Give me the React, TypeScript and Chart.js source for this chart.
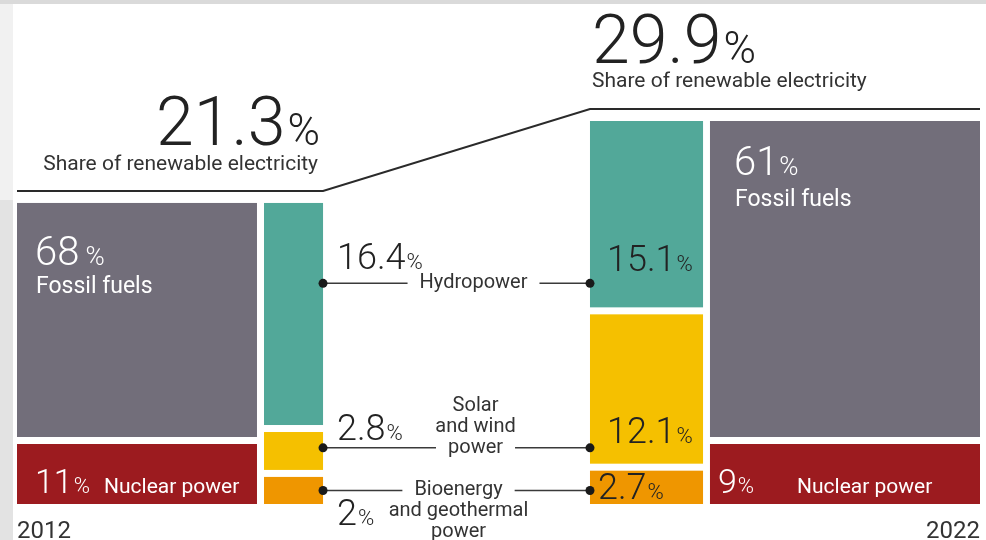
import { useEffect, useRef } from "react";
import { Chart, registerables } from "chart.js";

Chart.register(...registerables);

// ---- data (shares of electricity generation, %) ----
const YEARS = ["2012", "2022"];
const RENEWABLE_SHARE = [21.3, 29.9];
const HYDRO = [16.4, 15.1];
const SOLAR_WIND = [2.8, 12.1];
const BIO_GEO = [2, 2.7];
const FOSSIL = [68, 61];
const NUCLEAR = [11, 9];
const SOURCE_LABELS = [
  ["Hydropower"],
  ["Solar", "and wind", "power"],
  ["Bioenergy", "and geothermal", "power"],
];

// ---- layout (x scale 0..100 across the chart area, y scale 0..100 = full panel height) ----
const COL_OTHER_X = [[0, 24.92], [71.96, 100]];
const COL_RENEW_X = [[25.65, 31.78], [59.5, 71.24]];
const PANEL_TOP = [78.6, 100];
const GAP = 7;
const MIN_LABEL_PX = 60; // nuclear rows keep room for their label
const CONN_LINE = [0, 2, 0]; // which label line the connector runs through
const LABEL_DX = [17, 19, 2];
const LEFT_NUM_DY = [-14, -8, 35];
const RIGHT_NUM_DY = [-12, -5, 9];
const RIGHT_NUM_DX = [17, 17, 8];
const FOSSIL_DX = [18, 24];
const FOSSIL_NUM_DY = [62, 54];
const FOSSIL_TXT_DY = [90, 85];
const NUCLEAR_DX = [18, 8];

const FONT = "Roboto, 'Liberation Sans', sans-serif";
const COLORS = {
  fossil: "#726e7a",
  nuclear: "#9c1b1f",
  hydro: "#52a899",
  solar: "#f5c000",
  bio: "#ef9600",
  ink: "#222222",
  soft: "#333333",
};
const RENEW_COLORS = [COLORS.hydro, COLORS.solar, COLORS.bio];

type Seg = { y0: number; y1: number };

function stack(values: number[], top: number, bottom: number, minPx: number[]): Seg[] {
  const avail = bottom - top - GAP * (values.length - 1);
  const sum = values.reduce((a, b) => a + b, 0);
  let h = values.map((v) => (v / sum) * avail);
  const fixed = h.map((v, i) => v < minPx[i]);
  if (fixed.some(Boolean)) {
    const fixedTotal = minPx.reduce((a, m, i) => a + (fixed[i] ? m : 0), 0);
    const freeSum = values.reduce((a, v, i) => a + (fixed[i] ? 0 : v), 0);
    h = values.map((v, i) => (fixed[i] ? minPx[i] : (v / freeSum) * (avail - fixedTotal)));
  }
  let y = top;
  return h.map((hh) => {
    const s = { y0: y, y1: y + hh };
    y += hh + GAP;
    return s;
  });
}

function drawPct(
  ctx: CanvasRenderingContext2D,
  num: string,
  x: number,
  y: number,
  big: number,
  small: number,
  color: string,
  align: "left" | "right",
  gap = 1,
) {
  ctx.font = `300 ${big}px ${FONT}`;
  const w1 = ctx.measureText(num).width;
  ctx.font = `300 ${small}px ${FONT}`;
  const w2 = ctx.measureText("%").width;
  const start = align === "left" ? x : x - w1 - gap - w2;
  ctx.fillStyle = color;
  ctx.textAlign = "left";
  ctx.textBaseline = "alphabetic";
  ctx.font = `300 ${big}px ${FONT}`;
  ctx.fillText(num, start, y);
  ctx.font = `300 ${small}px ${FONT}`;
  ctx.fillText("%", start + w1 + gap, y);
}

const mekkoPlugin = {
  id: "mekko",
  beforeDraw(chart: Chart) {
    const { ctx, width, height } = chart;
    ctx.save();
    ctx.fillStyle = "#ffffff";
    ctx.fillRect(0, 0, width, height);
    ctx.fillStyle = "#dadada";
    ctx.fillRect(0, 0, width, 4);
    ctx.fillStyle = "#f1f1f1";
    ctx.fillRect(0, 4, 13, 196);
    ctx.fillStyle = "#e3e3e3";
    ctx.fillRect(0, 200, 13, height - 200);
    ctx.restore();
  },
  afterDraw(chart: Chart) {
    const { ctx } = chart;
    const xs = chart.scales.x;
    const ys = chart.scales.y;
    const px = (u: number) => xs.getPixelForValue(u);
    const py = (u: number) => ys.getPixelForValue(u);
    const bottom = py(0);

    const panels = YEARS.map((_, i) => {
      const top = py(PANEL_TOP[i]);
      const ox = COL_OTHER_X[i].map(px);
      const rx = COL_RENEW_X[i].map(px);
      const other = stack([FOSSIL[i], NUCLEAR[i]], top, bottom, [0, MIN_LABEL_PX]);
      const renew = stack([HYDRO[i], SOLAR_WIND[i], BIO_GEO[i]], top, bottom, [0, 0, 0]);
      return { top, ox, rx, other, renew };
    });

    ctx.save();
    // blocks
    panels.forEach((p) => {
      [COLORS.fossil, COLORS.nuclear].forEach((c, k) => {
        ctx.fillStyle = c;
        ctx.fillRect(p.ox[0], p.other[k].y0, p.ox[1] - p.ox[0], p.other[k].y1 - p.other[k].y0);
      });
      RENEW_COLORS.forEach((c, k) => {
        ctx.fillStyle = c;
        ctx.fillRect(p.rx[0], p.renew[k].y0, p.rx[1] - p.rx[0], p.renew[k].y1 - p.renew[k].y0);
      });
    });

    // labels inside fossil / nuclear blocks
    panels.forEach((p, i) => {
      const fx = p.ox[0] + FOSSIL_DX[i];
      drawPct(ctx, `${FOSSIL[i]}`, fx, p.top + FOSSIL_NUM_DY[i], 40, 26, "#ffffff", "left", i === 0 ? 6 : 1);
      ctx.font = `400 23px ${FONT}`;
      ctx.fillStyle = "#ffffff";
      ctx.fillText("Fossil fuels", fx + 1, p.top + FOSSIL_TXT_DY[i]);
      const nb = p.other[1].y1 - 11;
      drawPct(ctx, `${NUCLEAR[i]}`, p.ox[0] + NUCLEAR_DX[i], nb, 34, 22, "#ffffff", "left");
      ctx.font = `400 21px ${FONT}`;
      ctx.fillStyle = "#ffffff";
      ctx.fillText("Nuclear power", p.ox[0] + 87, nb);
    });

    // headline rule across both panels
    const [a, b] = panels;
    ctx.strokeStyle = "#2a2a2a";
    ctx.lineWidth = 2;
    ctx.beginPath();
    ctx.moveTo(a.ox[0], a.top - 12);
    ctx.lineTo(a.rx[1], a.top - 12);
    ctx.lineTo(b.rx[0], b.top - 12);
    ctx.lineTo(b.ox[1], b.top - 12);
    ctx.stroke();

    // headline numbers
    drawPct(ctx, `${RENEWABLE_SHARE[0]}`, a.rx[1] - 3, a.top - 58, 68, 44, COLORS.ink, "right", 2);
    drawPct(ctx, `${RENEWABLE_SHARE[1]}`, b.rx[0] + 2, b.top - 58, 68, 44, COLORS.ink, "left", 2);
    ctx.font = `400 21px ${FONT}`;
    ctx.fillStyle = COLORS.soft;
    ctx.textAlign = "right";
    ctx.fillText("Share of renewable electricity", a.rx[1] - 5, a.top - 33);
    ctx.textAlign = "left";
    ctx.fillText("Share of renewable electricity", b.rx[0] + 2, b.top - 34);

    // connectors between renewable sources
    const xL = a.rx[1];
    const xR = b.rx[0];
    const values = [HYDRO, SOLAR_WIND, BIO_GEO];
    SOURCE_LABELS.forEach((lines, k) => {
      const L = a.renew[k];
      const R = b.renew[k];
      const t = Math.max(L.y0, R.y0);
      const bt = Math.min(L.y1, R.y1);
      const conn = bt > t ? Math.max((t + bt) / 2, bt - 24) : (L.y0 + L.y1) / 2;
      const cx = (xL + xR) / 2 + LABEL_DX[k];

      ctx.font = `400 20px ${FONT}`;
      const w = ctx.measureText(lines[CONN_LINE[k]]).width;
      ctx.strokeStyle = "#3a3a3a";
      ctx.lineWidth = 1.5;
      ctx.beginPath();
      ctx.moveTo(xL, conn);
      ctx.lineTo(cx - w / 2 - 12, conn);
      ctx.moveTo(cx + w / 2 + 12, conn);
      ctx.lineTo(xR, conn);
      ctx.stroke();
      ctx.fillStyle = "#1a1a1a";
      [xL, xR].forEach((dx) => {
        ctx.beginPath();
        ctx.arc(dx, conn, 4.5, 0, Math.PI * 2);
        ctx.fill();
      });

      ctx.fillStyle = COLORS.soft;
      ctx.textAlign = "center";
      ctx.textBaseline = "middle";
      lines.forEach((ln, j) => ctx.fillText(ln, cx, conn + (j - CONN_LINE[k]) * 21));

      drawPct(ctx, `${values[k][0]}`, xL + 14, conn + LEFT_NUM_DY[k], 36, 22, COLORS.ink, "left");
      drawPct(ctx, `${values[k][1]}`, xR + RIGHT_NUM_DX[k], conn + RIGHT_NUM_DY[k], 36, 22, COLORS.ink, "left");
    });

    // year labels
    ctx.font = `400 24px ${FONT}`;
    ctx.fillStyle = COLORS.soft;
    ctx.textBaseline = "alphabetic";
    ctx.textAlign = "left";
    ctx.fillText(YEARS[0], a.ox[0], 538);
    ctx.textAlign = "right";
    ctx.fillText(YEARS[1], b.ox[1], 538);
    ctx.restore();
  },
};

export default function App() {
  const canvasRef = useRef<HTMLCanvasElement>(null);

  useEffect(() => {
    if (!canvasRef.current) return;
    const chart = new Chart(canvasRef.current, {
      type: "scatter",
      data: { datasets: [] },
      options: {
        animation: false,
        responsive: true,
        maintainAspectRatio: false,
        layout: { padding: { left: 17, right: 6, top: 121, bottom: 36 } },
        plugins: { legend: { display: false }, tooltip: { enabled: false } },
        scales: {
          x: { type: "linear", min: 0, max: 100, display: false },
          y: { type: "linear", min: 0, max: 100, display: false },
        },
      },
      plugins: [mekkoPlugin],
    });
    return () => chart.destroy();
  }, []);

  return (
    <div style={{ position: "fixed", left: 0, top: 0, width: 986, height: 540, background: "#fff" }}>
      <canvas ref={canvasRef} />
    </div>
  );
}
